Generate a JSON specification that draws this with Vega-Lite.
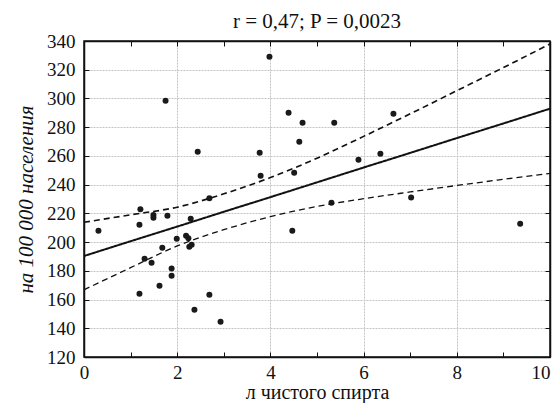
{
  "$schema": "https://vega.github.io/schema/vega-lite/v6.json",
  "autosize": {"type": "none"},
  "width": 466,
  "height": 316,
  "padding": {"left": 84, "top": 41, "right": 7, "bottom": 46},
  "background": "white",
  "config": {
    "font": "Liberation Serif",
    "view": {"stroke": "#111", "strokeWidth": 1.5},
    "axis": {
      "domainColor": "#111",
      "domainWidth": 1.5,
      "tickColor": "#111",
      "labelColor": "#111",
      "titleColor": "#111",
      "labelFont": "Liberation Serif",
      "titleFont": "Liberation Serif",
      "labelFontSize": 19,
      "titleFontSize": 20,
      "titleFontWeight": "normal",
      "labelOverlap": false,
      "gridColor": "#c4c4c4",
      "gridDash": [2, 1],
      "gridWidth": 1
    }
  },
  "title": {
    "text": "r = 0,47; P = 0,0023",
    "font": "Liberation Serif",
    "fontSize": 21,
    "fontWeight": "normal",
    "color": "#111",
    "offset": 0
  },
  "datasets": {
    "pts": [
      {"x": 0.31, "y": 207.9}, {"x": 1.19, "y": 212.1}, {"x": 1.21, "y": 222.8},
      {"x": 1.19, "y": 164.0}, {"x": 1.30, "y": 188.4}, {"x": 1.45, "y": 185.6},
      {"x": 1.49, "y": 218.8}, {"x": 1.49, "y": 216.9}, {"x": 1.62, "y": 169.6},
      {"x": 1.68, "y": 196.1}, {"x": 1.75, "y": 298.4}, {"x": 1.79, "y": 218.3},
      {"x": 1.88, "y": 181.7}, {"x": 1.88, "y": 176.6}, {"x": 1.99, "y": 202.3},
      {"x": 2.19, "y": 204.4}, {"x": 2.24, "y": 202.6}, {"x": 2.26, "y": 196.8},
      {"x": 2.29, "y": 216.2}, {"x": 2.31, "y": 198.1}, {"x": 2.37, "y": 152.9},
      {"x": 2.44, "y": 262.9}, {"x": 2.69, "y": 230.5}, {"x": 2.69, "y": 163.3},
      {"x": 2.93, "y": 144.6}, {"x": 3.77, "y": 262.2}, {"x": 3.79, "y": 246.2},
      {"x": 3.98, "y": 329.1}, {"x": 4.39, "y": 290.1}, {"x": 4.47, "y": 207.9},
      {"x": 4.51, "y": 248.3}, {"x": 4.62, "y": 269.9}, {"x": 4.69, "y": 283.1},
      {"x": 5.31, "y": 227.4}, {"x": 5.37, "y": 283.1}, {"x": 5.89, "y": 257.3},
      {"x": 6.36, "y": 261.5}, {"x": 6.64, "y": 289.4}, {"x": 7.02, "y": 231.0},
      {"x": 9.36, "y": 212.8}
    ],
    "fit": [
      {"series": "fit", "x": 0, "y": 190.3}, {"series": "fit", "x": 1, "y": 200.6},
      {"series": "fit", "x": 2, "y": 210.8}, {"series": "fit", "x": 3, "y": 221.1},
      {"series": "fit", "x": 4, "y": 231.3}, {"series": "fit", "x": 5, "y": 241.6},
      {"series": "fit", "x": 6, "y": 251.9}, {"series": "fit", "x": 7, "y": 262.1},
      {"series": "fit", "x": 8, "y": 272.4}, {"series": "fit", "x": 9, "y": 282.6},
      {"series": "fit", "x": 10, "y": 292.9},
      {"series": "upper", "x": 0, "y": 213.8}, {"series": "upper", "x": 1, "y": 219.0},
      {"series": "upper", "x": 2, "y": 224.3}, {"series": "upper", "x": 3, "y": 233.6},
      {"series": "upper", "x": 4, "y": 244.9}, {"series": "upper", "x": 5, "y": 258.4},
      {"series": "upper", "x": 6, "y": 273.6}, {"series": "upper", "x": 7, "y": 289.3},
      {"series": "upper", "x": 8, "y": 305.4}, {"series": "upper", "x": 9, "y": 321.5},
      {"series": "upper", "x": 10, "y": 337.9},
      {"series": "lower", "x": 0, "y": 166.8}, {"series": "lower", "x": 1, "y": 182.2},
      {"series": "lower", "x": 2, "y": 197.3}, {"series": "lower", "x": 3, "y": 208.6},
      {"series": "lower", "x": 4, "y": 217.7}, {"series": "lower", "x": 5, "y": 224.8},
      {"series": "lower", "x": 6, "y": 230.2}, {"series": "lower", "x": 7, "y": 234.9},
      {"series": "lower", "x": 8, "y": 239.4}, {"series": "lower", "x": 9, "y": 243.7},
      {"series": "lower", "x": 10, "y": 247.9}
    ]
  },
  "resolve": {"axis": {"x": "independent", "y": "independent"}},
  "layer": [
    {
      "data": {"name": "pts"},
      "mark": {"type": "point", "filled": true, "size": 36, "color": "#1a1a1a", "opacity": 1},
      "encoding": {
        "x": {
          "field": "x", "type": "quantitative",
          "scale": {"domain": [0, 10], "nice": false, "zero": false},
          "axis": {
            "orient": "bottom",
            "title": "л чистого спирта",
            "values": [0, 1, 2, 3, 4, 5, 6, 7, 8, 9, 10],
            "labelExpr": "datum.value % 2 == 0 ? datum.label : ''",
            "labelAlign": {"condition": {"test": "datum.value == 10", "value": "right"}, "value": "center"},
            "gridOpacity": {"condition": {"test": "datum.value % 2 == 1", "value": 0}, "value": 1},
            "labelOverlap": false,
            "tickSize": -5,
            "labelPadding": 11,
            "titlePadding": 0,
            "labelFlush": false
          }
        },
        "y": {
          "field": "y", "type": "quantitative",
          "scale": {"domain": [120, 340], "nice": false, "zero": false},
          "axis": {
            "orient": "left",
            "title": "на 100 000 населения",
            "titleFontStyle": "italic",
            "titleFontSize": 21,
            "values": [120, 140, 160, 180, 200, 220, 240, 260, 280, 300, 320, 340],
            "labelOverlap": false,
            "tickSize": -5,
            "labelPadding": 14,
            "titlePadding": 10,
            "labelFlush": false
          }
        }
      }
    },
    {
      "data": {"name": "pts"},
      "mark": {"type": "point", "filled": true, "size": 30, "opacity": 0},
      "encoding": {
        "x": {
          "field": "x", "type": "quantitative",
          "axis": {
            "orient": "top",
            "title": null,
            "values": [0, 1, 2, 3, 4, 5, 6, 7, 8, 9, 10],
            "labels": false,
            "grid": false,
            "tickSize": -5
          }
        },
        "y": {
          "field": "y", "type": "quantitative",
          "axis": {
            "orient": "right",
            "title": null,
            "values": [120, 140, 160, 180, 200, 220, 240, 260, 280, 300, 320, 340],
            "labels": false,
            "grid": false,
            "tickSize": -5
          }
        }
      }
    },
    {
      "data": {"name": "fit"},
      "mark": {"type": "line", "color": "#111", "interpolate": "monotone"},
      "encoding": {
        "x": {"field": "x", "type": "quantitative", "axis": null},
        "y": {"field": "y", "type": "quantitative", "axis": null},
        "detail": {"field": "series", "type": "nominal"},
        "strokeDash": {
          "field": "series", "type": "nominal",
          "scale": {"domain": ["fit", "upper", "lower"], "range": [[1, 0], [6, 4], [6, 4]]},
          "legend": null
        },
        "strokeWidth": {
          "field": "series", "type": "nominal",
          "scale": {"domain": ["fit", "upper", "lower"], "range": [2, 1.3, 1.3]},
          "legend": null
        }
      }
    }
  ]
}
